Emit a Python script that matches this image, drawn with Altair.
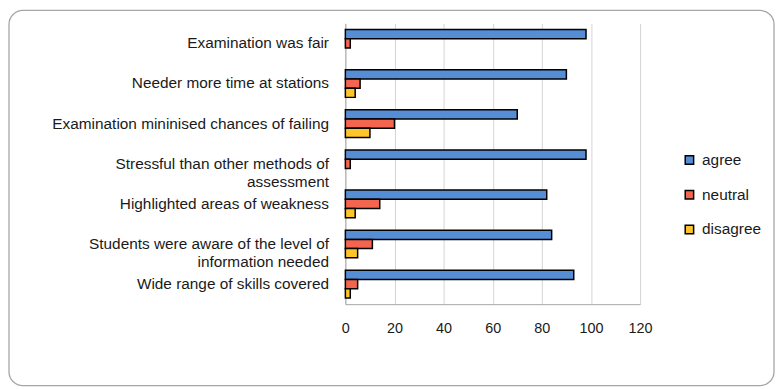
import altair as alt
import pandas as pd

NB = "\u00a0"
categories = [
    "Examination was fair",
    "Needer more time at stations",
    "Examination mininised chances of failing",
    "Stressful than other methods of\nassessment" + NB * 15,
    "Highlighted areas of weakness",
    "Students were aware of the level of\ninformation needed" + NB * 12,
    "Wide range of skills covered",
]
series = ["agree", "neutral", "disagree"]
agree = [98, 90, 70, 98, 82, 84, 93]
neutral = [2, 6, 20, 2, 14, 11, 5]
disagree = [0, 4, 10, 0, 4, 5, 2]
colors = ["#558ED5", "#F4654F", "#FDC52A"]
x_ticks = [0, 20, 40, 60, 80, 100, 120]

rows = []
for i, c in enumerate(categories):
    for s, vals in zip(series, [agree, neutral, disagree]):
        rows.append({"category": c, "series": s, "value": vals[i]})
df = pd.DataFrame(rows)

FONT = "Liberation Sans"
PW, PH = 297, 283
PAD = {"left": 340, "top": 14, "right": 136, "bottom": 83}

bars = (
    alt.Chart(df)
    .transform_filter("datum.value > 0")
    .mark_bar(stroke="black", strokeWidth=1.5)
    .encode(
        x=alt.X(
            "value:Q",
            scale=alt.Scale(domain=[0, 120], nice=False),
            axis=alt.Axis(
                values=x_ticks,
                title=None,
                grid=True,
                gridColor="#D4D4D4",
                gridWidth=1,
                domainColor="#A6A6A6",
                ticks=False,
                labelFlush=False,
                labelPadding=18,
                labelFontSize=14.5,
                labelFont=FONT,
                labelColor="#1a1a1a",
            ),
        ),
        y=alt.Y(
            "category:N",
            sort=categories,
            scale=alt.Scale(paddingInner=0.31, paddingOuter=0.155),
            axis=alt.Axis(
                title=None,
                ticks=False,
                domainColor="#A6A6A6",
                labelPadding=17,
                labelFontSize=15.5,
                labelFont=FONT,
                labelColor="#1a1a1a",
                labelLimit=400,
                labelLineHeight=18,
                labelExpr="split(datum.label, '\\n')",
            ),
        ),
        yOffset=alt.YOffset("series:N", sort=series, scale=alt.Scale(paddingInner=0, paddingOuter=0)),
        color=alt.Color(
            "series:N",
            sort=series,
            scale=alt.Scale(domain=series, range=colors),
            legend=alt.Legend(
                title=None,
                orient="none",
                legendX=339,
                legendY=130,
                padding=0,
                symbolType="square",
                symbolSize=72,
                symbolStrokeColor="black",
                symbolStrokeWidth=1.5,
                labelOffset=5,
                rowPadding=18,
                labelFontSize=15.5,
                labelFont=FONT,
                labelColor="#1a1a1a",
            ),
        ),
    )
)

frame = (
    alt.Chart(pd.DataFrame({"k": [0]}))
    .mark_rect(fillOpacity=0, stroke="#A6A6A6", strokeWidth=1.3, cornerRadius=14)
    .encode(
        x=alt.value(-PAD["left"] + 1),
        x2=alt.value(PW + PAD["right"] - 1),
        y=alt.value(-PAD["top"] + 1),
        y2=alt.value(PH + PAD["bottom"] - 1),
    )
)

chart = (
    alt.layer(bars, frame)
    .properties(width=PW, height=PH, padding=PAD, autosize=alt.AutoSizeParams(type="none"), background="white")
    .configure_view(strokeWidth=0)
)

chart.save("out.html", embed_options={"renderer": "svg", "actions": False})
